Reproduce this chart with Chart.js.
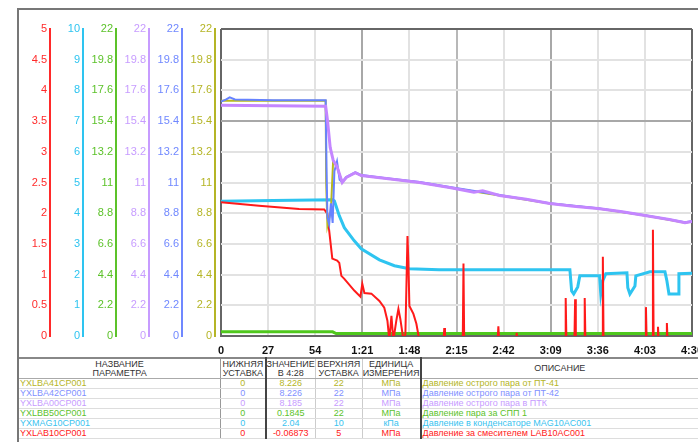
<!DOCTYPE html>
<html>
<head>
  <meta charset="utf-8">
  <title>Тренд давлений</title>
  <script src="https://cdn.jsdelivr.net/npm/chart.js"></script>
  <style>
    body { margin: 0; background: #fff; width: 698px; height: 442px; overflow: hidden; position: relative; font-family: 'Liberation Sans', Arial, sans-serif; }
    #frame { position: absolute; left: 17px; top: 8px; width: 690px; height: 440px; border-left: 2px solid #777; border-top: 2px solid #777; box-sizing: border-box; pointer-events: none; }
    #wrap { position: absolute; left: 0; top: 0; width: 698px; height: 357px; }
    #params { position: absolute; left: 19px; top: 357px; border-collapse: collapse; table-layout: fixed; font-size: 9px; line-height: 9px; border-top: 2px solid #888; }
    #params th { font-weight: normal; color: #333; height: 19px; padding: 0; white-space: nowrap; overflow: visible; border-bottom: 1px solid #aaa; }
    #params td { height: 9px; padding: 0 1px; white-space: nowrap; overflow: hidden; border-bottom: 1px solid #ddd; }
    #params .c { text-align: center; }
    #params .b1 { border-left: 1px solid #999; }
    #params .b2 { border-left: 2px solid #444; }
    #params .b3 { border-left: 1px solid #ccc; }
  </style>
</head>
<body>
  <div id="wrap"><canvas id="trend-chart"></canvas></div>
  <table id="params">
    <colgroup>
      <col style="width:206px"><col style="width:45px"><col style="width:48px"><col style="width:47px"><col style="width:52px"><col style="width:281px">
    </colgroup>
    <thead>
      <tr>
        <th>НАЗВАНИЕ<br>ПАРАМЕТРА</th>
        <th class="b1">НИЖНЯЯ<br>УСТАВКА</th>
        <th class="b2">ЗНАЧЕНИЕ<br>В 4:28</th>
        <th class="b3">ВЕРХНЯЯ<br>УСТАВКА</th>
        <th class="b3">ЕДИНИЦА<br>ИЗМЕРЕНИЯ</th>
        <th class="b2">ОПИСАНИЕ</th>
      </tr>
    </thead>
    <tbody id="param-rows"></tbody>
  </table>
  <div id="frame"></div>
  <script>
    // time axis (seconds) and its labels
    const xTickLabels = ['0', '27', '54', '1:21', '1:48', '2:15', '2:42', '3:09', '3:36', '4:03', '4:30'];
    const redTickLabels = ['0', '0.5', '1', '1.5', '2', '2.5', '3', '3.5', '4', '4.5', '5'];
    const cyanTickLabels = ['0', '1', '2', '3', '4', '5', '6', '7', '8', '9', '10'];
    const tickLabels22 = ['0', '2.2', '4.4', '6.6', '8.8', '11', '13.2', '15.4', '17.6', '19.8', '22'];

    // YXLBA00CP001 - purple
    const purpleTimes = [0, 30, 60, 61, 62.6, 64.3, 66.6, 69.5, 71.8, 77, 80.4, 93.6, 113.8, 131, 145, 150, 159.7, 175, 188.4, 202, 216, 230, 243, 257, 266, 270];
    const purpleValues = [16.54, 16.5, 16.47, 15.5, 13.5, 12.6, 12.1, 11.0, 11.36, 11.7, 11.5, 11.3, 11.0, 10.64, 10.3, 10.4, 10.07, 9.8, 9.49, 9.3, 9.13, 8.9, 8.63, 8.35, 8.12, 8.2];

    // YXLBA42CP001 - blue
    const blueTimes = [0, 3, 5, 8, 30, 60, 60.5, 61, 62, 63, 64, 65, 66.5, 68, 69.5, 71.8, 77, 80.4, 93.6, 113.8, 131, 159.7, 188.4, 216, 243, 266, 270];
    const blueValues = [16.8, 16.95, 17.1, 16.95, 16.9, 16.9, 12.0, 8.5, 8.0, 9.5, 8.1, 11.8, 12.5, 11.2, 11.03, 11.39, 11.73, 11.53, 11.33, 11.03, 10.67, 10.1, 9.52, 9.16, 8.66, 8.15, 8.23];

    // YXLBA41CP001 - olive
    const oliveTimes = [0, 60, 60.3, 61, 63, 64.3, 66.6, 69.5, 71.8, 77, 80.4, 93.6, 113.8, 131, 159.7, 188.4, 216, 243, 266, 270];
    const oliveValues = [16.85, 16.85, 11.0, 7.9, 9.0, 12.6, 12.1, 11.0, 11.36, 11.7, 11.5, 11.3, 11.0, 10.64, 10.07, 9.49, 9.13, 8.63, 8.12, 8.2];

    // YXMAG10CP001 - cyan (kPa)
    const cyanTimes = [0, 30, 64, 65, 67.8, 70.7, 76.4, 80.4, 90.8, 99.4, 108, 125, 200, 201, 202.2, 204.5, 205.7, 217, 217.7, 218.9, 220.6, 232.7, 233.2, 234.4, 237.3, 237.8, 245.9, 254.5, 255.6, 256.8, 262, 262.5, 270];
    const cyanValues = [4.39, 4.41, 4.44, 4.4, 3.92, 3.53, 3.1, 2.84, 2.48, 2.29, 2.19, 2.16, 2.16, 1.47, 1.37, 1.6, 1.96, 1.96, 1.37, 1.8, 2.03, 2.06, 1.57, 1.37, 1.63, 1.96, 2.09, 2.09, 1.8, 1.37, 1.37, 2.03, 2.04];

    // YXLAB10CP001 - red
    const redTimes = [0, 21.8, 44.8, 59.2, 61, 62, 63.8, 66.6, 67.8, 69, 70.7, 76.4, 79.9, 81, 82.2, 86.2, 90.8, 93.6, 95.4, 96.5,
      97.7, 98.8, 100.5, 101.7, 102.8, 104.6, 105.7, 106.9, 107.4, 108, 110.3, 112, 113.7,
      127.6, 128, 128.4, 138.6, 139, 139.4, 158.6, 159, 159.4, 169.1, 169.5, 169.9,
      197.2, 197.6, 198, 202.6, 203, 203.4, 208.1, 208.5, 208.9, 218.5, 218.9, 219.3,
      243.2, 243.6, 244, 247.2, 247.6, 248, 250.1, 250.5, 250.9, 255.2, 255.6, 256, 270];
    const redValues = [2.18, 2.12, 2.07, 2.06, 1.99, 1.72, 1.26, 1.23, 1.19, 0.98, 0.93, 0.74, 0.64, 0.85, 0.7, 0.69, 0.57, 0.46, 0.25, -0.07,
      0.33, -0.07, 0.25, 0.44, 0.28, -0.07, 0.03, 1.63, 1.22, 0.49, 0.36, 0.2, -0.07,
      -0.07, 0.13, -0.07, -0.07, 1.18, -0.07, -0.07, 0.16, -0.07, -0.07, 0.05, -0.07,
      -0.07, 0.62, -0.07, -0.07, 0.6, -0.07, -0.07, 0.62, -0.07, -0.07, 1.29, -0.07,
      -0.07, 0.47, -0.07, -0.07, 1.73, -0.07, -0.07, 0.15, -0.07, -0.07, 0.21, -0.07, -0.07];

    // YXLBB50CP001 - green
    const greenTimes = [0, 64, 66, 270];
    const greenValues = [0.3, 0.3, 0.18, 0.18];

    // parameter table
    const paramNames = ['YXLBA41CP001', 'YXLBA42CP001', 'YXLBA00CP001', 'YXLBB50CP001', 'YXMAG10CP001', 'YXLAB10CP001'];
    const paramLow = ['0', '0', '0', '0', '0', '0'];
    const paramNow = ['8.226', '8.226', '8.185', '0.1845', '2.04', '-0.06873'];
    const paramHigh = ['22', '22', '22', '22', '10', '5'];
    const paramUnits = ['МПа', 'МПа', 'МПа', 'МПа', 'кПа', 'МПа'];
    const paramDescr = ['Давление острого пара от ПТ-41', 'Давление острого пара от ПТ-42', 'Давление острого пара в ПТК',
      'Давление пара за СПП 1', 'Давление в конденсаторе MAG10AC001', 'Давление за смесителем LAB10AC001'];
    const paramColors = ['#b5b526', '#7f90ff', '#c79cff', '#5cc22a', '#39c3ef', '#ff2020'];

    const COLORS = { red: '#ff1a1a', cyan: '#2ec4f0', green: '#4fc81c', purple: '#c486ff', blue: '#6682ff', olive: '#b8b81e' };

    const rowsEl = document.getElementById('param-rows');
    paramNames.forEach((name, i) => {
      const tr = document.createElement('tr');
      tr.style.color = paramColors[i];
      tr.innerHTML =
        '<td>' + name + '</td>' +
        '<td class="c b1">' + paramLow[i] + '</td>' +
        '<td class="c b2">' + paramNow[i] + '</td>' +
        '<td class="c b3">' + paramHigh[i] + '</td>' +
        '<td class="c b3">' + paramUnits[i] + '</td>' +
        '<td class="b2">' + paramDescr[i] + '</td>';
      rowsEl.appendChild(tr);
    });

    function toPoints(times, values) {
      return times.map((t, i) => ({ x: t, y: values[i] }));
    }

    function series(label, times, values, color, width, axis) {
      return {
        label: label,
        data: toPoints(times, values),
        borderColor: color,
        backgroundColor: color,
        borderWidth: width,
        pointRadius: 0,
        tension: 0,
        yAxisID: axis,
      };
    }

    // left value axes, fixed width so the axis lines sit like the original
    function valueAxis(color, min, max, labels, weight) {
      return {
        type: 'linear',
        position: 'left',
        weight: weight,
        min: min,
        max: max,
        ticks: {
          count: labels.length,
          color: color,
          padding: 3,
          autoSkip: false,
          font: { family: "'Liberation Sans Narrow', 'Liberation Sans', Arial", size: 11 },
          callback: (v, i) => labels[i],
        },
        grid: { display: false, drawTicks: false },
        border: { display: true, color: color, width: 2 },
        afterFit: (scale) => { scale.width = 33; scale.paddingTop = 0; scale.paddingBottom = 0; },
      };
    }

    const ctx = document.getElementById('trend-chart').getContext('2d');
    new Chart(ctx, {
      type: 'line',
      data: {
        datasets: [
          series('YXLBA00CP001', purpleTimes, purpleValues, COLORS.purple, 3, 'yPurple'),
          series('YXLBA42CP001', blueTimes, blueValues, COLORS.blue, 2, 'yBlue'),
          series('YXLBA41CP001', oliveTimes, oliveValues, COLORS.olive, 2, 'yOlive'),
          series('YXLAB10CP001', redTimes, redValues, COLORS.red, 2, 'yRed'),
          series('YXMAG10CP001', cyanTimes, cyanValues, COLORS.cyan, 3, 'yCyan'),
          series('YXLBB50CP001', greenTimes, greenValues, COLORS.green, 3, 'yGreen'),
        ],
      },
      options: {
        responsive: true,
        maintainAspectRatio: false,
        animation: false,
        layout: { padding: { left: 17, top: 29, right: 6, bottom: 0 } },
        plugins: { legend: { display: false }, tooltip: { enabled: false } },
        scales: {
          x: {
            type: 'linear',
            min: 0,
            max: 270,
            ticks: {
              stepSize: 27,
              autoSkip: false,
              maxRotation: 0,
              padding: 8,
              color: '#111',
              font: { family: "'Liberation Sans Narrow', 'Liberation Sans', Arial", size: 11, weight: 'bold' },
              callback: (v, i) => xTickLabels[i],
            },
            grid: {
              drawTicks: false,
              lineWidth: 2,
              color: (c) => {
                const i = c.index;
                if (i === 0 || i === 10) return '#666';
                if (i === 3 || i === 7) return '#a8a8a8';
                if (i === 5) return '#b8b8b8';
                return '#e2e2e2';
              },
            },
            border: { display: true, color: '#666', width: 2 },
            afterFit: (scale) => { scale.height = 21; scale.paddingLeft = 0; scale.paddingRight = 0; },
          },
          yRed: valueAxis('#ff2a2a', 0, 5, redTickLabels, 7),
          yCyan: valueAxis('#2ec4f0', 0, 10, cyanTickLabels, 6),
          yGreen: valueAxis('#5cc22a', 0, 22, tickLabels22, 5),
          yPurple: valueAxis('#c79cff', 0, 22, tickLabels22, 4),
          yBlue: valueAxis('#7088ff', 0, 22, tickLabels22, 3),
          yOlive: valueAxis('#b5b526', 0, 22, tickLabels22, 2),
          // spacer between the last value axis and the plot, carries the horizontal grid
          yGrid: {
            type: 'linear',
            position: 'left',
            weight: 1,
            min: 0,
            max: 10,
            ticks: { display: false, stepSize: 1 },
            grid: {
              drawTicks: false,
              lineWidth: 2,
              color: (c) => {
                const v = c.tick.value;
                if (v === 10) return '#666';
                if (v === 7) return '#a8a8a8';
                return '#e2e2e2';
              },
            },
            border: { display: false },
            afterFit: (scale) => { scale.width = 6; scale.paddingTop = 0; scale.paddingBottom = 0; },
          },
        },
      },
    });
  </script>
</body>
</html>
